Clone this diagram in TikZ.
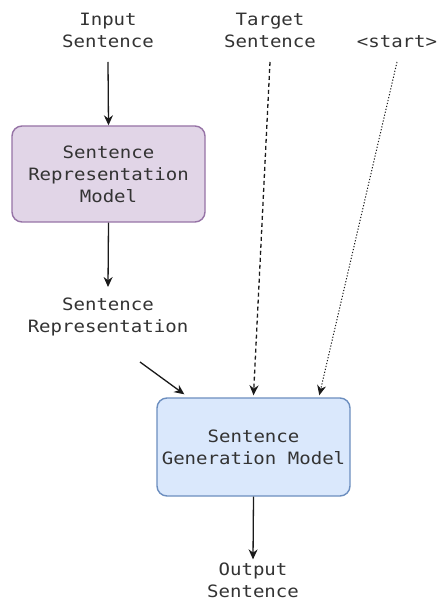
\documentclass[tikz,border=0pt]{standalone}
\usepackage{fontspec}
\setmainfont[FakeStretch=1.12]{DejaVu Sans Mono}
\usetikzlibrary{arrows.meta,calc}
\definecolor{txt}{HTML}{333333}
\definecolor{line}{HTML}{1A1A1A}
\definecolor{pfill}{HTML}{E1D5E7}
\definecolor{pstroke}{HTML}{9673A6}
\definecolor{bfill}{HTML}{DAE8FC}
\definecolor{bstroke}{HTML}{6C8EBF}
\tikzset{
  lbl/.style={text=txt,align=center,inner sep=0pt,font=\fontsize{17}{22}\selectfont},
  model/.style={lbl,rounded corners=10pt,line width=1.4pt},
  arr/.style={draw=line,line width=1.3pt,-{Stealth[length=10pt,width=9pt]}},
}
\begin{document}
\begin{tikzpicture}[x=1pt,y=-1pt]
\useasboundingbox[fill=white] (0,0) rectangle (441,601);
\node[lbl] (in) at (108,30) {Input\\Sentence};
\node[lbl] (tgt) at (270,30) {Target\\Sentence};
\node[lbl] (st) at (397,42) {<start>};
\node[model,fill=pfill,draw=pstroke,minimum width=193pt,minimum height=96pt] (m1) at (108.5,174) {Sentence\\Representation\\Model};
\node[lbl] (rep) at (108,317) {Sentence\\Representation};
\node[model,fill=bfill,draw=bstroke,minimum width=193pt,minimum height=98pt] (m2) at (253.5,447) {Sentence\\Generation Model};
\node[lbl] (out) at (253,580) {Output\\Sentence};
\coordinate (inb) at (108,62);
\coordinate (tgtb) at (270,62);
\coordinate (stb) at (397,62);
\coordinate (repb) at (140,362);
\draw[arr] (inb) -- (m1.north);
\draw[arr] (m1.south) -- (108,287);
\draw[arr] (repb) -- ($(m2.north west)+(28,-3)$);
\draw[arr,dash pattern=on 4pt off 3pt] (tgtb) -- ($(m2.north)+(0,-2)$);
\draw[arr,dash pattern=on 1.2pt off 1.8pt,line width=1pt] (stb) -- ($(m2.north west)+(163,-2)$);
\draw[arr] (m2.south) -- ($(out.north)+(0,-3)$);
\end{tikzpicture}
\end{document}
